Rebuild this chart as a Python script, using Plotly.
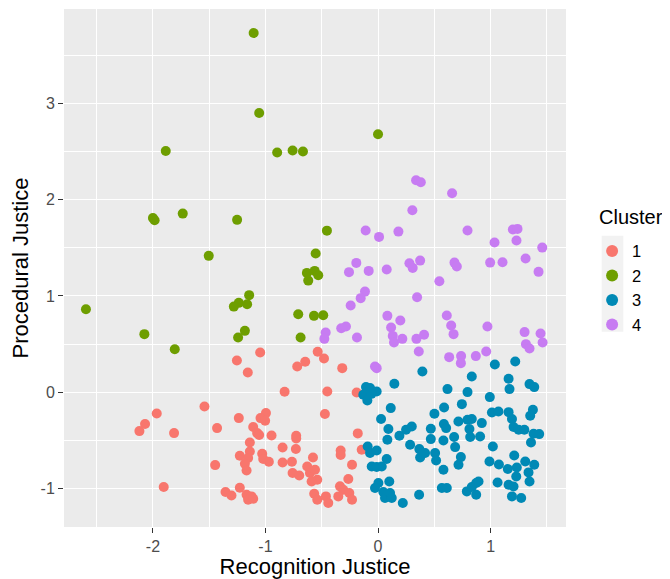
import plotly.graph_objects as go

# Cluster 1
c1_x = [-1.254, -1.542, -1.966, -2.07, -2.12, -1.812, -1.43, -1.237, -1.447, -1.228, -1.904, -1.355, -1.302, -1.228,
        -1.047, -1.157, -0.718, -0.647, -0.536, -0.48, -0.318, -0.83, -0.451, -0.19, -0.472,
        -0.996, -1.044, -1.003, -1.109, -1.074, -1.056, -0.946, -0.727, -0.727, -0.18, -0.145,
        -1.139, -1.139, -1.154, -1.183, -1.168,
        -1.029, -1.02, -0.97,
        -0.848, -0.73, -0.848, -0.765, -0.578, -0.332, -0.332, -0.231,
        -0.759, -0.7, -0.629, -0.605, -0.56, -0.54, -0.59,
        -0.264, -0.338, -0.309, -0.255, -0.231, -0.353, -0.567, -0.54, -0.463, -0.442,
        -1.168, -1.124, -1.154, -1.109]
c1_y = [0.329, -0.148, -0.221, -0.331, -0.404, -0.425, -0.373, -0.269, -0.757, -0.66, -0.985, -1.037, -1.072, -0.992,
        0.412, 0.205, 0.267, 0.316, 0.42, 0.35, 0.25, 0.004, 0.007, -0.003, -0.227,
        -0.217, -0.269, -0.297, -0.362, -0.425, -0.445, -0.449, -0.452, -0.48, -0.428, -0.598,
        -0.522, -0.615, -0.684, -0.743, -0.813,
        -0.639, -0.694, -0.722,
        -0.574, -0.59, -0.73, -0.722, -0.678, -0.605, -0.653, -0.754,
        -0.84, -0.865, -0.771, -0.84, -0.805, -0.909, -0.927,
        -0.902, -0.978, -1.013, -1.047, -1.117, -1.082, -1.055, -1.117, -1.082, -1.151,
        -1.065, -1.082, -1.117, -1.106]

# Cluster 2
c2_x = [-1.105, -1.056, 0.0, -1.886, -0.896, -0.759, -0.667, -2.0, -1.985, -1.735, -1.252, -0.454, -1.504,
        -0.554, -0.632, -0.62, -0.563, -0.531, -2.595, -1.145, -1.237, -1.281, -1.163, -2.076, -1.183,
        -1.243, -1.806, -0.709, -0.569, -0.487, -0.688]
c2_y = [3.73, 2.90, 2.68, 2.505, 2.49, 2.51, 2.50, 1.81, 1.786, 1.855, 1.79, 1.678, 1.416,
        1.44, 1.239, 1.159, 1.26, 1.215, 0.862, 1.008, 0.928, 0.889, 0.914, 0.603, 0.637,
        0.568, 0.447, 0.81, 0.793, 0.80, 0.568]

# Cluster 3
c3_x = [0.394, 0.145, -0.107, -0.071, -0.131, -0.095, -0.012, -0.059, 0.617, 0.113, 0.027, 0.092, 0.083, 0.19,
        0.249, 0.3, 0.285, 0.501, 0.587, 0.585, 0.469, 0.469, 0.581, -0.092, -0.071, -0.012, 0.077, -0.056,
        -0.012, 0.033, 0.367, 0.374, 0.418, 0.507, 0.516, 0.581, 0.003, -0.027, 0.1, 0.047, 0.062, 0.107,
        0.122, 0.22, 0.365, 0.567, 0.611,
        1.038, 1.219, 0.833, 1.16, 1.168, 1.346, 1.388, 0.795, 0.993, 0.745, 1.012, 1.07, 1.16, 1.19, 1.204,
        1.249, 1.3, 1.376, 1.352, 0.605, 0.714, 0.795, 0.833, 0.812, 0.819, 0.922, 0.907, 0.676, 0.685,
        1.382, 1.432, 1.359, 1.02, 0.736, 0.715, 0.99, 1.074, 1.21, 1.153, 1.233, 1.228, 1.308, 1.388,
        1.337, 1.346, 1.062, 1.16, 1.204, 1.19, 1.272, 0.789, 0.833, 0.872, 0.893, 0.872]
c3_y = [0.215, 0.087, 0.053, 0.043, -0.027, -0.086, 0.007, -0.017, 0.032, -0.165, -0.279, -0.383, -0.494, -0.453,
        -0.39, -0.356, -0.546, -0.224, -0.159, -0.33, -0.38, -0.487, -0.501, -0.564, -0.632, -0.605, -0.694, -0.771,
        -0.777, -0.771, -0.591, -0.678, -0.632, -0.632, -0.709, -0.805, -0.943, -0.995, -0.927, -1.037, -1.099, -1.047,
        -1.099, -1.151, -1.065, -0.995, -0.995,
        0.288, 0.319, 0.163, 0.139, 0.032, 0.084, 0.053, 0.001, -0.051, -0.124, -0.211, -0.2, -0.207, -0.279, -0.362,
        -0.39, -0.39, -0.183, -0.245, -0.373, -0.304, -0.286, -0.279, -0.383, -0.466, -0.321, -0.46, -0.466, -0.57,
        -0.432, -0.435, -0.522, -0.564, -0.674, -0.754, -0.719, -0.75, -0.657, -0.798, -0.782, -0.875, -0.719, -0.754,
        -0.833, -0.927, -0.937, -0.961, -0.979, -1.082, -1.099, -1.03, -0.985, -0.943, -0.927, -1.065]

# Cluster 4
c4_x = [0.338, 0.38, 0.658, 0.305, -0.11, 0.009, 0.181, 0.795, 1.198, 1.239, 1.035, 1.23, 1.459,
        -0.193, -0.258, -0.083, 0.077, 0.279, 0.308, 0.374, 0.545, 0.679, 0.7, 0.996, 1.106, 1.311, 1.426,
        -0.116, -0.154, -0.243, 0.347, 0.083, 0.198, 0.116, 0.131, 0.142, 0.216, 0.341, 0.409, 0.362,
        -0.327, -0.285, -0.187, -0.465, -0.477, 0.611, 0.65, 0.671, 0.972, 1.302, 1.444, 1.462, 1.314, 1.346,
        0.632, 0.738, 0.869, 0.961, -0.027, -0.012, 0.736]
c4_y = [2.201, 2.18, 2.066, 1.89, 1.679, 1.613, 1.668, 1.679, 1.689, 1.696, 1.554, 1.575, 1.502,
        1.343, 1.247, 1.26, 1.274, 1.34, 1.291, 1.367, 1.153, 1.346, 1.305, 1.346, 1.35, 1.388, 1.25,
        1.045, 0.977, 0.9, 0.987, 0.793, 0.744, 0.672, 0.585, 0.516, 0.554, 0.554, 0.596, 0.423,
        0.665, 0.682, 0.568, 0.62, 0.554, 0.796, 0.692, 0.603, 0.682, 0.624, 0.609, 0.516, 0.499, 0.454,
        0.364, 0.375, 0.375, 0.423, 0.267, 0.25, 0.302]

cluster_names = ["1", "2", "3", "4"]
cluster_colors = ["#F8766D", "#6E9E00", "#0089B5", "#C77CF2"]
xs = [c1_x, c2_x, c3_x, c4_x]
ys = [c1_y, c2_y, c3_y, c4_y]

x_ticks = [-2, -1, 0, 1]
y_ticks = [-1, 0, 1, 2, 3]

FONT = "Liberation Sans, Arial, sans-serif"

fig = go.Figure()
for name, col, x, y in zip(cluster_names, cluster_colors, xs, ys):
    fig.add_trace(go.Scatter(x=x, y=y, mode="markers", name=name,
                             marker=dict(color=col, size=10, line=dict(width=0))))

axis_common = dict(
    showgrid=True, gridcolor="white", gridwidth=1.1, zeroline=False,
    ticks="outside", ticklen=5, tickwidth=1.1, tickcolor="#333333",
    tickfont=dict(family=FONT, size=16, color="#4D4D4D"),
    minor=dict(dtick=0.5, showgrid=True, gridcolor="white", gridwidth=0.5, ticks=""),
    showline=False, automargin=False,
)

fig.update_layout(
    width=662, height=571,
    margin=dict(l=56, r=104, t=1, b=52),
    paper_bgcolor="white", plot_bgcolor="#EBEBEB",
    font=dict(family=FONT, color="black"),
    xaxis=dict(range=[-2.79, 1.67], tickvals=x_ticks, ticktext=[str(v) for v in x_ticks],
               title=dict(text="Recognition Justice", font=dict(size=22, color="black"), standoff=6),
               **axis_common),
    yaxis=dict(range=[-1.40, 3.98], tickvals=y_ticks, ticktext=[str(v) for v in y_ticks],
               title=dict(text="Procedural Justice", font=dict(size=22, color="black"), standoff=8),
               **axis_common),
    showlegend=True,
    legend=dict(x=1.052, xanchor="left", y=0.566, yanchor="top",
                font=dict(size=16.5, color="black"), bgcolor="rgba(0,0,0,0)",
                itemsizing="constant", tracegroupgap=0),
    annotations=[dict(text="Cluster", xref="paper", yref="paper", x=1.062, y=0.598,
                      xanchor="left", yanchor="middle", showarrow=False,
                      font=dict(size=20, color="black"))],
    shapes=[dict(type="rect", xref="paper", yref="paper", x0=1.0711, x1=1.1142, y0=0.377, y1=0.5624,
                 fillcolor="#F2F2F2", line=dict(width=0), layer="below")],
)

fig.write_html("out.html")
